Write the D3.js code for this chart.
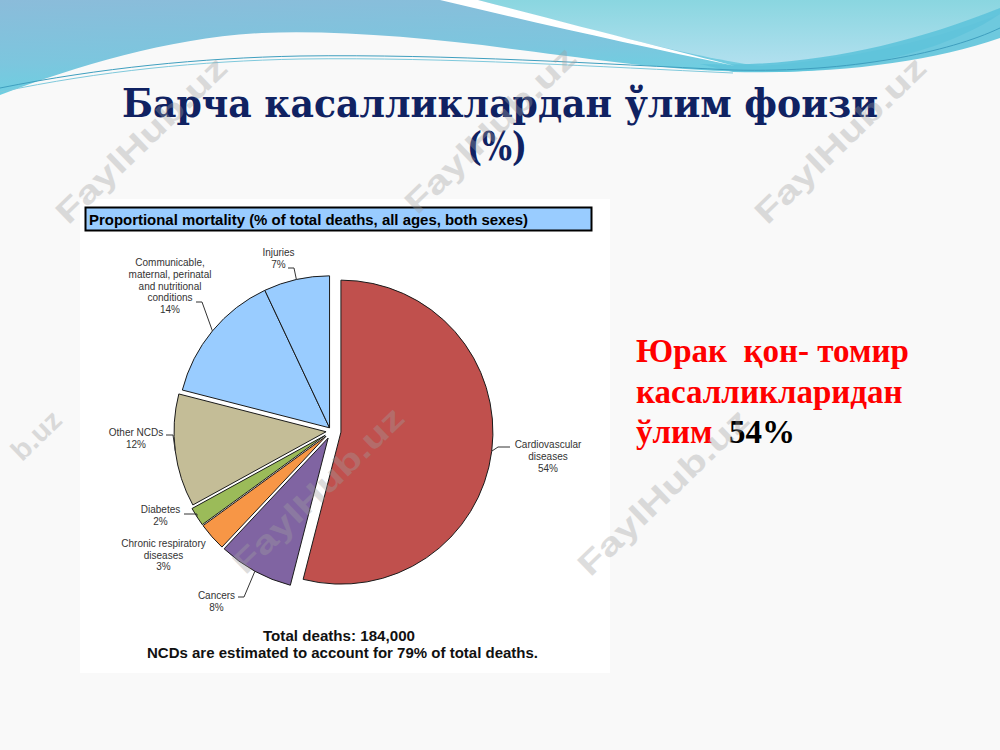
<!DOCTYPE html>
<html>
<head>
<meta charset="utf-8">
<script src="https://cdn.jsdelivr.net/npm/d3@7"></script>
<style>
  html, body { margin: 0; padding: 0; background: #f9f9f9; }
  svg { display: block; }
</style>
</head>
<body>
<div id="chart"></div>
<script>
// ---------------- DATA ----------------
const categories = [
  "Cardiovascular diseases",
  "Cancers",
  "Chronic respiratory diseases",
  "Diabetes",
  "Other NCDs",
  "Communicable, maternal, perinatal and nutritional conditions",
  "Injuries"
];
const values = [54, 8, 3, 2, 12, 14, 7];
const labelLines = [
  ["Cardiovascular", "diseases"],
  ["Cancers"],
  ["Chronic respiratory", "diseases"],
  ["Diabetes"],
  ["Other NCDs"],
  ["Communicable,", "maternal, perinatal", "and nutritional", "conditions"],
  ["Injuries"]
];
const chartHeader = "Proportional mortality (% of total deaths, all ages, both sexes)";
const footLines = ["Total deaths: 184,000", "NCDs are estimated to account for 79% of total deaths."];
const titleLines = ["Барча  касалликлардан  ўлим  фоизи", "(%)"];
const noteLines = [["Юрак  қон- томир"], ["касалликларидан"], ["ўлим", "54%"]];
const watermarkText = "FaylHub.uz";
const watermarkTail = "b.uz";

// ---------------- STYLE / LAYOUT ----------------
const colors = ["#c0504d", "#8064a2", "#f79646", "#9bbb59", "#c4bd97", "#99ccff", "#99ccff"];
const explodeGroup = [0, 1, 2, 3, 4, 5, 5];
const explodeDist = [9, 8, 8, 8, 6, 4];
const labelLayout = [
  {dx: 216, dy: 17, lead: [178, 166, 16]},
  {dx: -115.5, dy: 168, lead: [-94, -88, 166]},
  {dx: -168.5, dy: 115.7, lead: null},
  {dx: -171.5, dy: 82, lead: [-148, -135, 83]},
  {dx: -196, dy: 5, lead: [-166, -159, 4]},
  {dx: -162, dy: -165, lead: [-136, -130, -129]},
  {dx: -53.5, dy: -175.3, lead: [-44, -38, -163]}
];
const W = 1000, H = 750;
const cx = 332, cy = 431, R = 152;

const svg = d3.select("#chart").append("svg")
  .attr("width", W).attr("height", H)
  .attr("viewBox", `0 0 ${W} ${H}`);

const defs = svg.append("defs");
const g1 = defs.append("linearGradient").attr("id", "gBlue")
  .attr("x1", "0").attr("y1", "0").attr("x2", "0.35").attr("y2", "1");
g1.append("stop").attr("offset", "0").attr("stop-color", "#8bbcda");
g1.append("stop").attr("offset", "0.6").attr("stop-color", "#7cc6de");
g1.append("stop").attr("offset", "1").attr("stop-color", "#68d2e2");
const g2 = defs.append("linearGradient").attr("id", "gCyan")
  .attr("x1", "0").attr("y1", "0").attr("x2", "0").attr("y2", "1");
g2.append("stop").attr("offset", "0").attr("stop-color", "#8ad6e0");
g2.append("stop").attr("offset", "1").attr("stop-color", "#b2e0ef");

// slide background
svg.append("rect").attr("width", W).attr("height", H).attr("fill", "#f9f9f9");

// ---------------- top decorative waves ----------------
const deco = svg.append("g");
deco.append("path")
  .attr("d", "M0,0 H1000 V14 C960,42 880,70 780,72 C680,73 600,60 520,50 C430,38 340,30 262,33 C170,38 80,65 0,95 Z")
  .attr("fill", "url(#gBlue)");
deco.append("path")
  .attr("d", "M478,0 H1000 V14 C950,34 870,58 760,66 C700,58 620,38 478,0 Z")
  .attr("fill", "url(#gCyan)");
deco.append("path")
  .attr("d", "M700,64 C800,68 900,48 1000,8 V38 C930,62 840,74 733,72 Z")
  .attr("fill", "#5ec3da").attr("opacity", 0.9);
deco.append("path")
  .attr("d", "M440,0 H478 C600,32 680,52 735,66 C640,46 540,24 440,0 Z")
  .attr("fill", "#ffffff");
deco.append("path")
  .attr("d", "M0,88 C100,68 200,58 300,56 C450,54 600,64 733,70 C850,73 950,52 1000,28")
  .attr("fill", "none").attr("stroke", "#3f9fbf").attr("stroke-width", 1);
deco.append("path")
  .attr("d", "M0,92 C100,71 200,61 300,59 C450,57 600,67 733,73")
  .attr("fill", "none").attr("stroke", "#7fc9dc").attr("stroke-width", 1);

// ---------------- Title ----------------
const titleFont = "'DejaVu Serif', serif";
svg.append("text")
  .attr("x", 500).attr("y", 117)
  .attr("text-anchor", "middle")
  .attr("font-family", titleFont)
  .attr("font-weight", "bold").attr("font-size", 39)
  .attr("fill", "#102262")
  .attr("textLength", 756).attr("lengthAdjust", "spacingAndGlyphs")
  .text(titleLines[0]);
svg.append("text")
  .attr("x", 497).attr("y", 160)
  .attr("text-anchor", "middle")
  .attr("font-family", titleFont)
  .attr("font-weight", "bold").attr("font-size", 39)
  .attr("fill", "#102262")
  .attr("textLength", 60).attr("lengthAdjust", "spacingAndGlyphs")
  .text(titleLines[1]);

// ---------------- Chart image panel ----------------
svg.append("rect").attr("x", 80).attr("y", 199).attr("width", 530).attr("height", 474).attr("fill", "#ffffff");
svg.append("rect").attr("x", 85.5).attr("y", 207.5).attr("width", 506).attr("height", 23)
  .attr("fill", "#99ccff").attr("stroke", "#000").attr("stroke-width", 2);
svg.append("text").attr("x", 89).attr("y", 225)
  .attr("font-family", "'Liberation Sans', Arial, sans-serif")
  .attr("font-weight", "bold").attr("font-size", 15)
  .attr("fill", "#000")
  .attr("textLength", 439).attr("lengthAdjust", "spacingAndGlyphs")
  .text(chartHeader);

// ---------------- Pie ----------------
const pie = d3.pie().sort(null).value(d => d).startAngle(0).endAngle(2 * Math.PI);
const arcs = pie(values);
const arc = d3.arc().innerRadius(0).outerRadius(R);
const edgeArc = d3.arc().innerRadius(R).outerRadius(R);

const groupSpan = {};
arcs.forEach((a, i) => {
  const g = explodeGroup[i];
  if (!groupSpan[g]) groupSpan[g] = [a.startAngle, a.endAngle];
  groupSpan[g][0] = Math.min(groupSpan[g][0], a.startAngle);
  groupSpan[g][1] = Math.max(groupSpan[g][1], a.endAngle);
});
const offsets = arcs.map((a, i) => {
  const g = explodeGroup[i];
  const mid = (groupSpan[g][0] + groupSpan[g][1]) / 2;
  const d = explodeDist[g];
  return [d * Math.sin(mid), -d * Math.cos(mid)];
});

const pieG = svg.append("g").attr("transform", `translate(${cx},${cy})`);
pieG.selectAll("path.slice").data(arcs).join("path")
  .attr("class", "slice")
  .attr("transform", (d, i) => `translate(${offsets[i][0]},${offsets[i][1]})`)
  .attr("d", arc)
  .attr("fill", (d, i) => colors[i])
  .attr("stroke", "#1a1a1a").attr("stroke-width", 1)
  .attr("stroke-linejoin", "round");

// labels
const labG = pieG.append("g")
  .attr("font-family", "'Liberation Sans', Arial, sans-serif")
  .attr("font-size", 10).attr("fill", "#333");
arcs.forEach((a, i) => {
  const L = labelLayout[i];
  const lines = labelLines[i].concat([values[i] + "%"]);
  const t = labG.append("text").attr("text-anchor", "middle");
  lines.forEach((ln, k) => {
    t.append("tspan").attr("x", L.dx).attr("y", L.dy + k * 11.8).text(ln);
  });
  if (L.lead) {
    const p = edgeArc.centroid(a);
    const pt = [p[0] + offsets[i][0], p[1] + offsets[i][1]];
    labG.append("path")
      .attr("d", d3.line()([[L.lead[0], L.lead[2]], [L.lead[1], L.lead[2]], pt]))
      .attr("fill", "none").attr("stroke", "#333").attr("stroke-width", 1);
  }
});

// footer
footLines.forEach((ln, k) => {
  svg.append("text")
    .attr("x", k === 0 ? 339 : 342.5).attr("y", k === 0 ? 640.5 : 658)
    .attr("text-anchor", "middle")
    .attr("font-family", "'Liberation Sans', Arial, sans-serif")
    .attr("font-weight", "bold").attr("font-size", 15)
    .attr("fill", "#111")
    .attr("textLength", k === 0 ? 152 : 391).attr("lengthAdjust", "spacingAndGlyphs")
    .text(ln);
});

// ---------------- Right note ----------------
const note = svg.append("g")
  .attr("font-family", "'Liberation Serif', 'Times New Roman', serif")
  .attr("font-weight", "bold").attr("font-size", 33);
noteLines.forEach((parts, k) => {
  const t = note.append("text").attr("x", 636).attr("y", 362 + k * 40.5).attr("xml:space", "preserve");
  parts.forEach((p, j) => {
    t.append("tspan").attr("fill", j === 0 ? "#ff0000" : "#000")
      .text(j === 0 ? p : "  " + p);
  });
});

// ---------------- Watermarks ----------------
const wm = svg.append("g").attr("pointer-events", "none");
const wmCenters = [[141, 140], [490, 130], [840, 140], [318, 490], [663, 492]];
const wmStyle = sel => sel
  .attr("text-anchor", "middle").attr("dy", "0.35em")
  .attr("font-family", "'Liberation Sans', Arial, sans-serif")
  .attr("font-weight", "bold").attr("font-size", 32)
  .attr("fill", "#a0a0a0").attr("opacity", 0.35)
  .attr("lengthAdjust", "spacingAndGlyphs");
wmCenters.forEach(c => {
  wm.append("text")
    .attr("transform", `translate(${c[0]},${c[1]}) rotate(-44)`)
    .call(wmStyle)
    .attr("textLength", 224)
    .text(watermarkText);
});
// the part of the left-edge watermark that is visible on the slide
wm.append("text")
  .attr("transform", "translate(36,435) rotate(-44)")
  .call(wmStyle)
  .attr("font-size", 28)
  .attr("textLength", 58)
  .text(watermarkTail);
</script>
</body>
</html>
